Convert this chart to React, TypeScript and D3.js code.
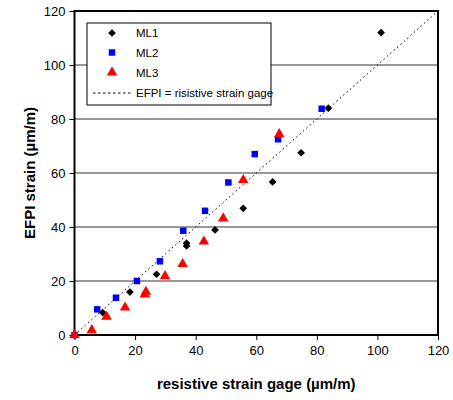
import * as d3 from "d3";
import { useEffect, useRef } from "react";

const ticks = [0, 20, 40, 60, 80, 100, 120];

const ml1 = [
  [0, 0], [9.3, 8.3], [18.3, 15.9], [27.1, 22.5], [37, 33], [37, 34],
  [46.4, 38.9], [55.7, 46.9], [65.4, 56.7], [74.8, 67.5], [83.8, 84], [101.2, 112],
];
const ml2 = [
  [0, 0], [7.5, 9.5], [13.7, 13.8], [20.6, 20], [28.2, 27.3], [35.9, 38.6],
  [43.1, 46], [50.8, 56.5], [59.5, 67], [67.2, 72.5], [81.6, 83.8],
];
const ml3 = [
  [0, 0], [5.7, 1.8], [10.6, 6.8], [16.7, 10.2], [23.2, 15], [23.6, 16],
  [29.9, 21.8], [35.7, 26.3], [42.7, 34.6], [49.1, 43.2], [55.7, 57.4], [67.6, 74.4],
];
const legendLabels = ["ML1", "ML2", "ML3", "EFPI = risistive strain gage"];

const font = "'Liberation Sans', Arial, sans-serif";

function drawChart(svgElement: SVGSVGElement) {
  const width = 453;
  const height = 400;
  const margin = { top: 11, right: 15, bottom: 65, left: 74.5 };
  const svg = d3.select(svgElement);
  svg.selectAll("*").remove();
  svg.attr("width", width).attr("height", height).style("font-family", font);

  const x = d3.scaleLinear().domain([0, 120]).range([margin.left, width - margin.right]);
  const y = d3.scaleLinear().domain([0, 120]).range([height - margin.bottom, margin.top]);

  // gridlines
  svg
    .append("g")
    .selectAll("line")
    .data(ticks.slice(1, -1))
    .join("line")
    .attr("x1", x(0))
    .attr("x2", x(120))
    .attr("y1", (d) => y(d))
    .attr("y2", (d) => y(d))
    .attr("stroke", "#333")
    .attr("stroke-width", 1);

  // axes
  const xAxis = svg
    .append("g")
    .attr("transform", `translate(0,${y(0)})`)
    .call(d3.axisBottom(x).tickValues(ticks).tickSize(5).tickSizeOuter(0).tickPadding(6));
  xAxis.select(".domain").remove();
  xAxis.selectAll("text").attr("font-size", 13).attr("font-family", font).attr("fill", "#000");

  const yAxis = svg
    .append("g")
    .attr("transform", `translate(${x(0)},0)`)
    .call(d3.axisLeft(y).tickValues(ticks).tickSize(5).tickSizeOuter(0).tickPadding(4));
  yAxis.select(".domain").remove();
  yAxis.selectAll("text").attr("font-size", 13).attr("font-family", font).attr("fill", "#000");

  // frame
  svg
    .append("rect")
    .attr("x", x(0))
    .attr("y", y(120))
    .attr("width", x(120) - x(0))
    .attr("height", y(0) - y(120))
    .attr("fill", "none")
    .attr("stroke", "#000")
    .attr("stroke-width", 2);

  // reference line
  svg
    .append("line")
    .attr("x1", x(0))
    .attr("y1", y(0))
    .attr("x2", x(120))
    .attr("y2", y(120))
    .attr("stroke", "#000")
    .attr("stroke-width", 1)
    .attr("stroke-dasharray", "1.5,3");

  const diamond = d3.symbol(d3.symbolSquare, 30)();
  const square = d3.symbol(d3.symbolSquare, 42)();
  const triangle = d3.symbol(d3.symbolTriangle, 48)();

  const series = [
    { data: ml2, path: square, color: "#0000ff", rot: 0 },
    { data: ml1, path: diamond, color: "#000000", rot: 45 },
    { data: ml3, path: triangle, color: "#ff0000", rot: 0 },
  ];
  series.forEach((s) => {
    svg
      .append("g")
      .selectAll("path")
      .data(s.data)
      .join("path")
      .attr("d", s.path)
      .attr("transform", (d) => `translate(${x(d[0])},${y(d[1])}) rotate(${s.rot})`)
      .attr("fill", s.color);
  });

  // legend
  const legend = svg.append("g");
  legend
    .append("rect")
    .attr("x", 87)
    .attr("y", 23)
    .attr("width", 184)
    .attr("height", 82)
    .attr("fill", "#fff")
    .attr("stroke", "#000")
    .attr("stroke-width", 1);
  const rowY = [33, 52.5, 72.5, 93];
  const legendMarks = [
    { path: diamond, color: "#000000", rot: 45 },
    { path: square, color: "#0000ff", rot: 0 },
    { path: triangle, color: "#ff0000", rot: 0 },
  ];
  legendMarks.forEach((m, i) => {
    legend
      .append("path")
      .attr("d", m.path)
      .attr("transform", `translate(112,${rowY[i]}) rotate(${m.rot})`)
      .attr("fill", m.color);
  });
  legend
    .append("line")
    .attr("x1", 93)
    .attr("x2", 133)
    .attr("y1", rowY[3])
    .attr("y2", rowY[3])
    .attr("stroke", "#000")
    .attr("stroke-dasharray", "2.5,2.5");
  legendLabels.forEach((label, i) => {
    legend
      .append("text")
      .attr("x", 136)
      .attr("y", rowY[i])
      .attr("dy", "0.35em")
      .attr("font-size", 11.5)
      .text(label);
  });

  // axis titles
  svg
    .append("text")
    .attr("x", x(60))
    .attr("y", 389)
    .attr("text-anchor", "middle")
    .attr("font-size", 15)
    .attr("font-weight", "bold")
    .text("resistive strain gage (µm/m)");
  svg
    .append("text")
    .attr("transform", `translate(35,${y(60)}) rotate(-90)`)
    .attr("text-anchor", "middle")
    .attr("font-size", 15)
    .attr("font-weight", "bold")
    .text("EFPI strain (µm/m)");
}

export default function App() {
  const svgRef = useRef<SVGSVGElement>(null);
  useEffect(() => {
    if (svgRef.current) drawChart(svgRef.current);
  }, []);
  return <svg ref={svgRef} style={{ position: "absolute", left: 0, top: 0 }} />;
}
